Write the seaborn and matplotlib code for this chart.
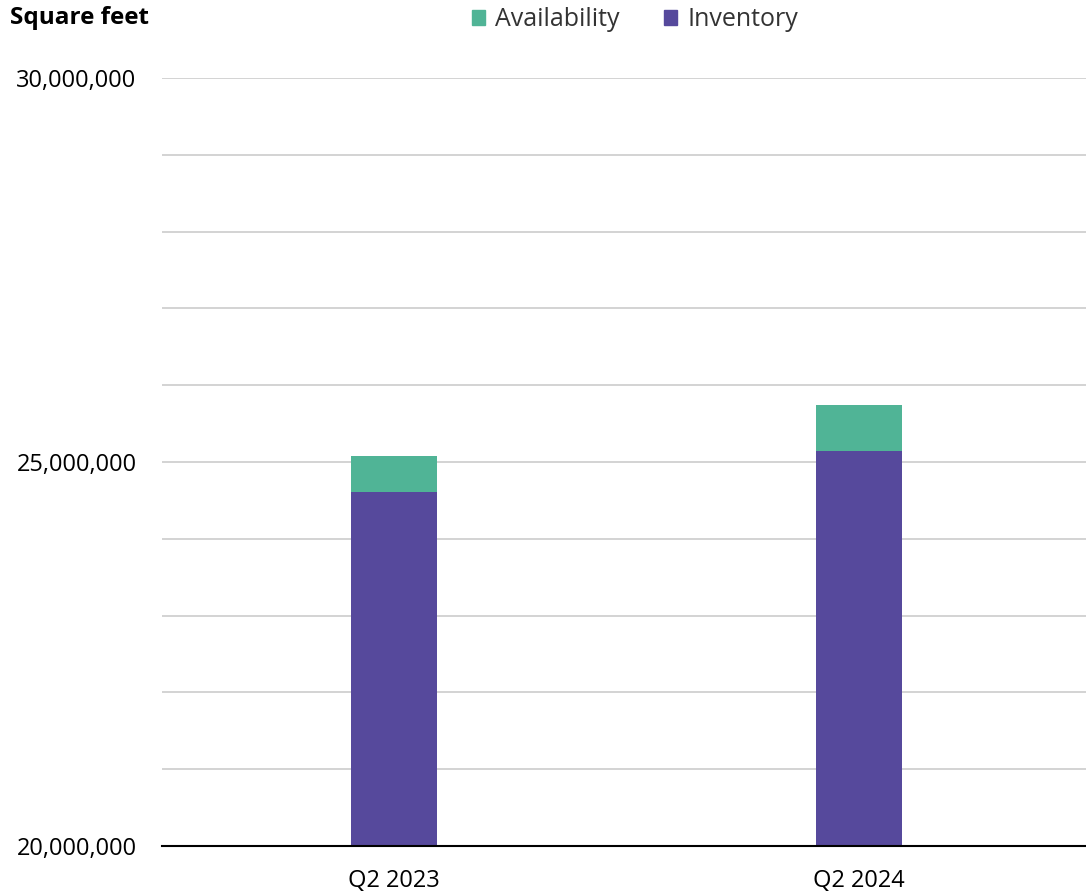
import matplotlib
matplotlib.use("Agg")
import matplotlib.pyplot as plt
import seaborn as sns
import pandas as pd
from matplotlib.patches import Patch
from matplotlib.ticker import MultipleLocator, FuncFormatter

# datos
periodos = ["Q2 2023", "Q2 2024"]
inventario = [24610000, 25140000]
disponibilidad = [470000, 600000]

COLOR_DISP = "#50b496"
COLOR_INV = "#56499c"

sns.set_theme(style="white")
plt.rcParams['font.family'] = ['Open Sans', 'DejaVu Sans']

df = pd.DataFrame({
    "periodo": periodos,
    "inventario": inventario,
    "total": [i + d for i, d in zip(inventario, disponibilidad)],
})

fig = plt.figure(figsize=(10.86, 8.96), dpi=100)
ax = fig.add_axes([161.5 / 1086, 1 - 846 / 896, 930 / 1086, (846 - 78) / 896])

# barras apiladas: total (verde) y encima el inventario (morado)
sns.barplot(data=df, x="periodo", y="total", color=COLOR_DISP, width=0.187,
            saturation=1, linewidth=0, ax=ax)
sns.barplot(data=df, x="periodo", y="inventario", color=COLOR_INV, width=0.187,
            saturation=1, linewidth=0, ax=ax)

ax.set_ylim(20000000, 30000000)
ax.set_xlim(-0.5, 1.5)
ax.yaxis.set_major_locator(MultipleLocator(1000000))
ax.yaxis.set_major_formatter(FuncFormatter(
    lambda v, p: f"{int(round(v)):,}" if round(v) % 5000000 == 0 else ""))
ax.grid(axis="y", color="#d0d0d0", linewidth=1.3)
ax.set_axisbelow(True)
for lado in ["top", "right", "left"]:
    ax.spines[lado].set_visible(False)
ax.spines["bottom"].set_color("black")
ax.spines["bottom"].set_linewidth(1.5)
ax.tick_params(axis="both", length=0, labelsize=17, colors="black")
ax.tick_params(axis="y", pad=18)
ax.tick_params(axis="x", pad=16.5)
ax.set_xlabel("")
ax.set_ylabel("")

fig.text(10 / 1086, 1 - 18 / 896, "Square feet", fontsize=17.5, fontweight="bold",
         color="black", ha="left", va="center")

handles = [Patch(color=COLOR_DISP, label="Availability"),
           Patch(color=COLOR_INV, label="Inventory")]
fig.legend(handles=handles, loc="center", bbox_to_anchor=(0.5845, 1 - 20 / 896),
           ncol=2, frameon=False, fontsize=18, handlelength=0.55, handleheight=0.55,
           handletextpad=0.4, columnspacing=1.75, labelcolor="#333333")

fig.savefig("out.png", dpi=100)
plt.close()
